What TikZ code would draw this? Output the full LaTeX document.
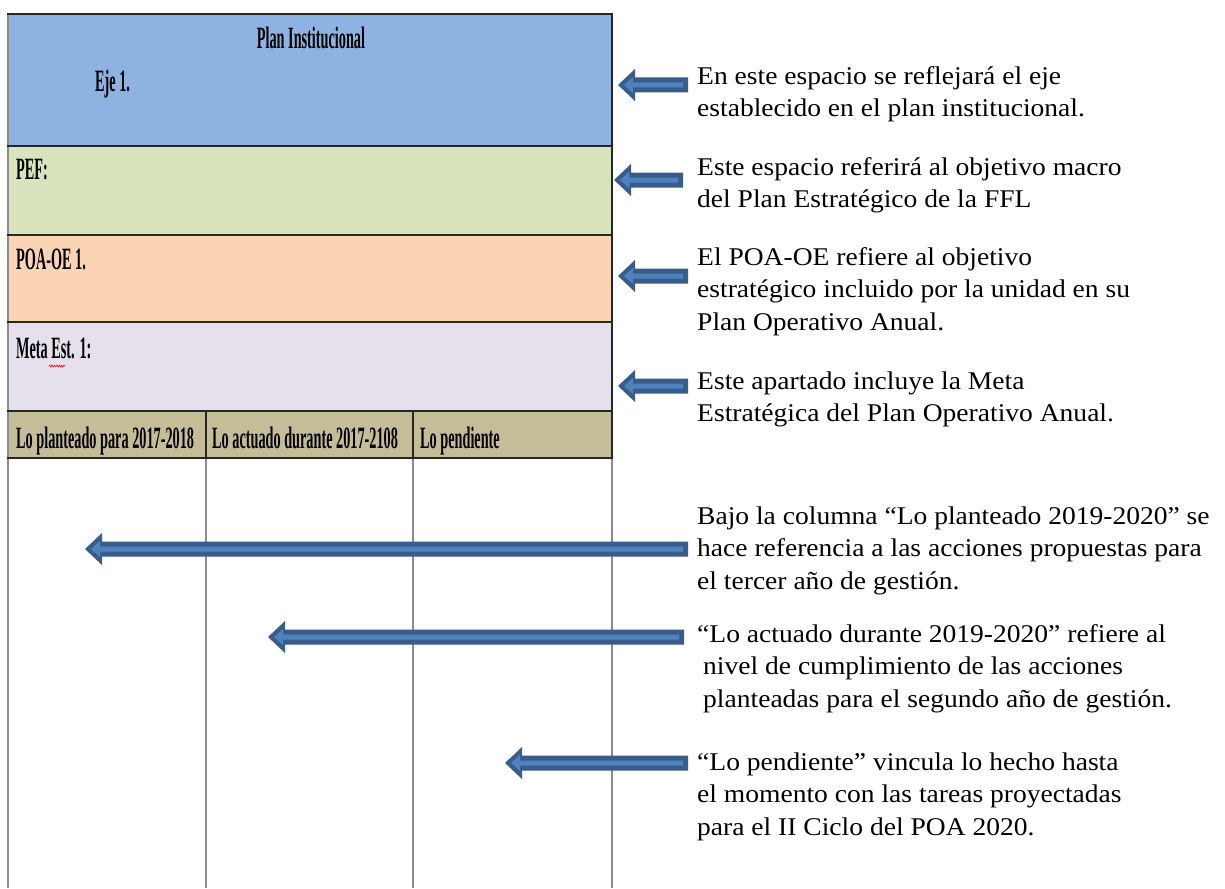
\documentclass[tikz,border=0pt]{standalone}
\usepackage{fontspec}
\setmainfont{Liberation Serif}[FakeStretch=1.08]
\newfontfamily\tabfont[FakeStretch=0.46]{Liberation Serif Bold}
\usetikzlibrary{calc,decorations.pathmorphing}
\definecolor{rowblue}{HTML}{8DB3E2}
\definecolor{rowgreen}{HTML}{D7E4BD}
\definecolor{rowpeach}{HTML}{FBD4B4}
\definecolor{rowlav}{HTML}{E5E0EC}
\definecolor{rowtan}{HTML}{C4BD97}
\definecolor{arrdark}{HTML}{385D8A}
\definecolor{arrlight}{HTML}{4F81BD}
\definecolor{gridgray}{HTML}{8C8C8C}
\definecolor{rowlinec}{HTML}{262626}
% block arrow: #1 = shaft end (tail), #2 = tip
\newcommand\blockarr[2]{%
  \fill[arrdark] let \p1=(#1), \p2=(#2) in
    (\x2,\y2) -- (\x2+17pt,\y2+16pt) -- (\x2+17pt,\y2+7.5pt) -- (\x1,\y2+7.5pt)
    -- (\x1,\y2-7.5pt) -- (\x2+17pt,\y2-7.5pt) -- (\x2+17pt,\y2-16pt) -- cycle;
  \fill[arrlight] let \p1=(#1), \p2=(#2) in
    (\x2+6pt,\y2) -- (\x2+15pt,\y2+8pt) -- (\x2+15pt,\y2+2.5pt) -- (\x1-5pt,\y2+2.5pt)
    -- (\x1-5pt,\y2-2.5pt) -- (\x2+15pt,\y2-2.5pt) -- (\x2+15pt,\y2-8pt) -- cycle;
}
\begin{document}
\begin{tikzpicture}[x=1pt,y=-1pt,
  rowbox/.style={inner sep=0pt, outer sep=0pt, anchor=north west, minimum width=604pt},
  tabtext/.style={inner sep=0pt, anchor=base west, font=\tabfont\fontsize{31pt}{33pt}\selectfont},
  note/.style={inner sep=0pt, anchor=north west, align=left, font=\fontsize{25.5pt}{32.3pt}\selectfont},
  rowline/.style={draw=rowlinec, line width=2pt},
  gridline/.style={draw=gridgray, line width=1.8pt},
  squiggle/.style={draw=red, line width=0.6pt, decorate, decoration={zigzag, segment length=2.4pt, amplitude=0.9pt}}]
\useasboundingbox (0,0) rectangle (1225,888);
\fill[white] (0,0) rectangle (1225,888);
% rows
\node[rowbox, fill=rowblue,  minimum height=132pt] (rowEje)  at (8,14)  {};
\node[rowbox, fill=rowgreen, minimum height=89pt]  (rowPef)  at (8,146) {};
\node[rowbox, fill=rowpeach, minimum height=87pt]  (rowPoa)  at (8,235) {};
\node[rowbox, fill=rowlav,   minimum height=89pt]  (rowMeta) at (8,322) {};
\node[rowbox, fill=rowtan,   minimum height=47pt]  (rowHead) at (8,411) {};
% grid lines
\draw[gridline] (8,14) -- (8,888);
\draw[gridline] (206,411) -- (206,888);
\draw[gridline] (413,411) -- (413,888);
\draw[gridline] (612,411) -- (612,888);
\draw[rowline] (612,14) -- (612,458);
\draw[rowline] (206,411) -- (206,458);
\draw[rowline] (413,411) -- (413,458);
\foreach \yy in {14,146,235,322,411,458} \draw[rowline] (7,\yy) -- (613,\yy);
% table texts
\node[tabtext, anchor=base] (tPlan) at (311,49) {Plan Institucional};
\node[tabtext] (tEje) at (95,92) {Eje 1.};
\node[tabtext] (tPef) at (16,179) {PEF:};
\node[tabtext] (tPoa) at (16,269) {POA-OE 1.};
\node[tabtext] (tMeta) at (16,358) {Meta Est. 1:};
\draw[squiggle] (49,366) -- (65,366);
\node[tabtext] (hPlan) at (16,448) {Lo planteado para 2017-2018};
\node[tabtext] (hAct) at (212,448) {Lo actuado durante 2017-2108};
\node[tabtext] (hPend) at (420,448) {Lo pendiente};
% notes
\node[note] (n1) at (697,66.5) {En este espacio se reflejará el eje\\establecido en el plan institucional.};
\node[note] (n2) at (697,157.5) {Este espacio referirá al objetivo macro\\del Plan Estratégico de la FFL};
\node[note] (n3) at (697,247.5) {El POA-OE refiere al objetivo\\estratégico incluido por la unidad en su\\Plan Operativo Anual.};
\node[note] (n4) at (697,371.5) {Este apartado incluye la Meta\\Estratégica del Plan Operativo Anual.};
\node[note] (n5) at (697,506.5) {Bajo la columna “Lo planteado 2019-2020” se\\hace referencia a las acciones propuestas para\\el tercer año de gestión.};
\node[note] (n6) at (697,624.5) {“Lo actuado durante 2019-2020” refiere al\\\hspace*{6pt}nivel de cumplimiento de las acciones\\\hspace*{6pt}planteadas para el segundo año de gestión.};
\node[note] (n7) at (697,752.5) {“Lo pendiente” vincula lo hecho hasta\\el momento con las tareas proyectadas\\para el II Ciclo del POA 2020.};
% arrow end points
\coordinate (a1s) at (688,85);  \coordinate (a1t) at (618,85);
\coordinate (a2s) at (683,180); \coordinate (a2t) at (614,180);
\coordinate (a3s) at (688,276); \coordinate (a3t) at (618,276);
\coordinate (a4s) at (688,386); \coordinate (a4t) at (618,386);
\coordinate (a5s) at (688,549); \coordinate (a5t) at (85,549);
\coordinate (a6s) at (684,637); \coordinate (a6t) at (268,637);
\coordinate (a7s) at (688,763); \coordinate (a7t) at (505,763);
\blockarr{a1s}{a1t}
\blockarr{a2s}{a2t}
\blockarr{a3s}{a3t}
\blockarr{a4s}{a4t}
\blockarr{a5s}{a5t}
\blockarr{a6s}{a6t}
\blockarr{a7s}{a7t}
\end{tikzpicture}
\end{document}
